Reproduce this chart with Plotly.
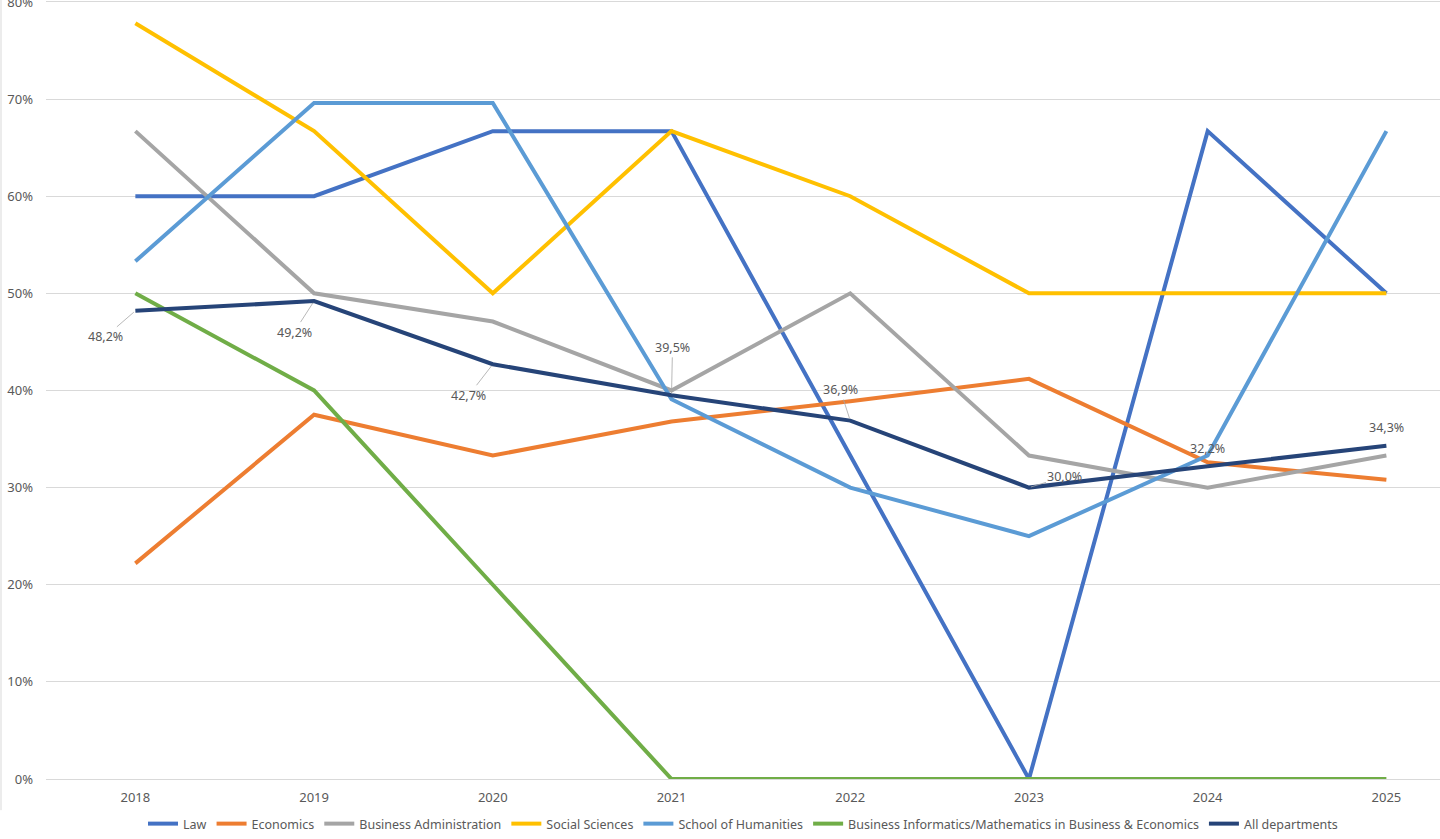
import plotly.graph_objects as go

years = ["2018", "2019", "2020", "2021", "2022", "2023", "2024", "2025"]

law = [60.0, 60.0, 66.7, 66.7, 33.3, 0.0, 66.7, 50.0]
economics = [22.2, 37.5, 33.3, 36.8, 38.9, 41.2, 32.6, 30.8]
business_admin = [66.7, 50.0, 47.1, 40.0, 50.0, 33.3, 30.0, 33.3]
social_sciences = [77.8, 66.7, 50.0, 66.7, 60.0, 50.0, 50.0, 50.0]
humanities = [53.3, 69.6, 69.6, 39.1, 30.0, 25.0, 33.3, 66.7]
informatics = [50.0, 40.0, 20.0, 0.0, 0.0, 0.0, 0.0, 0.0]
all_departments = [48.2, 49.2, 42.7, 39.5, 36.9, 30.0, 32.2, 34.3]
y_ticks = [0.0, 0.1, 0.2, 0.3, 0.4, 0.5, 0.6, 0.7, 0.8]

series = [
    ("Law", law, "#4472C4"),
    ("Economics", economics, "#ED7D31"),
    ("Business Administration", business_admin, "#A5A5A5"),
    ("Social Sciences", social_sciences, "#FFC000"),
    ("School of Humanities", humanities, "#5B9BD5"),
    ("Business Informatics/Mathematics in Business & Economics", informatics, "#70AD47"),
    ("All departments", all_departments, "#264478"),
]

# label offsets (px) for the "All departments" data labels, None = no leader line
label_offsets = [(-30, 26), (-20, 31), (-24, 31), (1, -48), (-10, -31), (36, -11), None, None]

FONT = "Noto Sans"
TXT = "#595959"

fig = go.Figure()
for name, vals, color in series:
    fig.add_trace(go.Scatter(
        x=list(range(len(years))), y=[v / 100 for v in vals], mode="lines", name=name,
        line=dict(color=color, width=4), hoverinfo="skip",
    ))

annotations = []
for i, v in enumerate(all_departments):
    text = f"{v:.1f}%".replace(".", ",")
    off = label_offsets[i]
    if off is None:
        annotations.append(dict(x=i, y=v / 100, text=text, showarrow=False, yshift=18,
                                font=dict(family=FONT, size=12.5, color=TXT)))
    else:
        annotations.append(dict(x=i, y=v / 100, text=text, showarrow=True, arrowhead=0,
                                arrowwidth=0.8, arrowcolor="#A6A6A6", ax=off[0], ay=off[1],
                                standoff=2, font=dict(family=FONT, size=12.5, color=TXT)))

fig.update_layout(
    width=1440, height=839,
    margin=dict(l=46, r=0, t=0, b=60),
    paper_bgcolor="white", plot_bgcolor="white",
    font=dict(family=FONT, size=12.5, color=TXT),
    showlegend=True,
    legend=dict(orientation="h", x=0.5, xanchor="center", yref="container", y=0.0,
                yanchor="bottom", font=dict(family=FONT, size=12.5, color=TXT),
                itemwidth=30, tracegroupgap=0),
    xaxis=dict(
        range=[-0.5, 7.3], tickvals=list(range(len(years))), ticktext=years,
        showgrid=False, zeroline=False, showline=False, ticks="", automargin=False,
        ticklabelstandoff=9,
        tickfont=dict(family=FONT, size=13, color=TXT),
    ),
    yaxis=dict(
        range=[0, 0.802], tickvals=y_ticks, tickformat=".0%", automargin=False,
        ticklabeloverflow="allow",
        showgrid=True, gridcolor="#D9D9D9", gridwidth=1,
        zeroline=True, zerolinecolor="#D9D9D9", zerolinewidth=1,
        showline=False, ticks="", ticklabelstandoff=12,
        tickfont=dict(family=FONT, size=13, color=TXT),
    ),
    annotations=annotations,
    shapes=[dict(type="line", xref="paper", yref="paper", x0=-45 / 1394, x1=-45 / 1394,
                 y0=-0.04, y1=1.0, line=dict(color="#D9D9D9", width=1))],
)

# drop the default 8px page margin so the figure sits flush in the window
fig.write_html("out.html", config={"displayModeBar": False},
               post_script="document.body.style.margin='0';")
